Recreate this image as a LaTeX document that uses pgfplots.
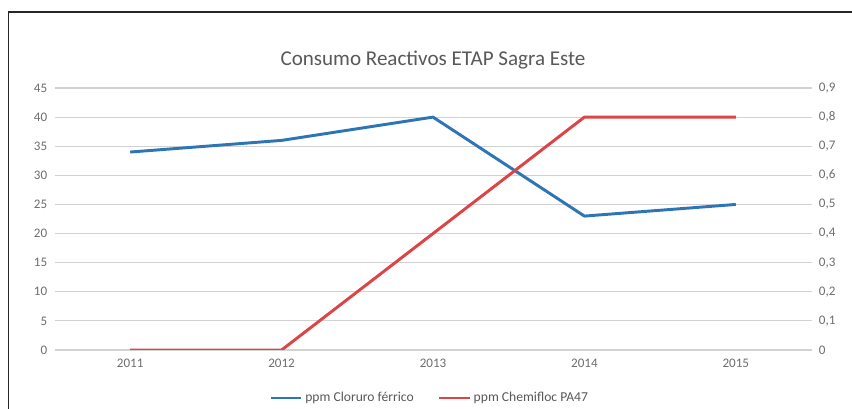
\documentclass[border=0pt]{standalone}
\usepackage{pgfplots}
\pgfplotsset{compat=1.18}
\usepackage{fontspec}
\setmainfont{Carlito}
\definecolor{sblue}{RGB}{46,117,182}
\definecolor{sred}{RGB}{220,68,70}
\definecolor{txtc}{RGB}{89,89,89}
\definecolor{tickc}{RGB}{110,110,110}
\definecolor{gridc}{RGB}{210,210,210}
\begin{document}
\begin{tikzpicture}
\useasboundingbox (0pt,0pt) rectangle (639pt,306.75pt);
\fill[white] (0pt,0pt) rectangle (639pt,306.75pt);
\draw[line width=1.2pt,black!85] (6.5pt,0pt) -- (6.5pt,297.75pt) -- (639pt,297.75pt);
\pgfplotsset{
  common/.style={
    at={(40.875pt,44.25pt)}, anchor=south west,
    scale only axis, width=567.75pt, height=196.5pt,
    xmin=-0.5, xmax=4.5,
    xtick={0,1,2,3,4},
    xticklabels={2011,2012,2013,2014,2015},
    xmajorgrids=false,
    axis line style={draw=none},
    major tick length=0pt,
    tick label style={font=\fontsize{9.8}{11}\selectfont, text=tickc},
    /pgf/number format/assume math mode=true,
    /pgf/number format/use comma,
  }
}
\begin{axis}[common,
  ymin=0, ymax=45, ytick={0,5,...,45},
  ymajorgrids, grid style={draw=gridc, line width=0.9pt},
  yticklabel style={xshift=-2pt},
  xticklabel style={yshift=-3pt},
  title={Consumo Reactivos ETAP Sagra Este},
  title style={at={(0.5,1.075)}, anchor=center, font=\fontsize{15.8}{18}\selectfont, text=txtc},
  legend style={at={(0.496,-0.183)}, anchor=center, draw=none, fill=none,
    font=\fontsize{10.2}{12}\selectfont, text=txtc, legend columns=2,
    /tikz/every even column/.append style={column sep=16pt},
    /tikz/every odd column/.append style={column sep=0pt}},
  legend image code/.code={\draw[#1, line width=2pt] (0pt,0pt) -- (23pt,0pt);},
]
\addplot[sblue, line width=2.2pt, line join=round] coordinates {(0,34) (1,36) (2,40) (3,23) (4,25)};
\addlegendentry{ppm Cloruro férrico}
\addlegendimage{sred, line width=2.2pt}
\addlegendentry{ppm Chemifloc PA47}
\end{axis}
\begin{axis}[common,
  axis y line*=right, axis x line=none,
  ymin=0, ymax=0.9, ytick={0,0.1,...,0.9},
  yticklabel style={xshift=2pt, /pgf/number format/fixed, /pgf/number format/precision=1},
]
\addplot[sred, line width=2.2pt, line join=round] coordinates {(0,0) (1,0) (2,0.4) (3,0.8) (4,0.8)};
\end{axis}
\end{tikzpicture}
\end{document}
